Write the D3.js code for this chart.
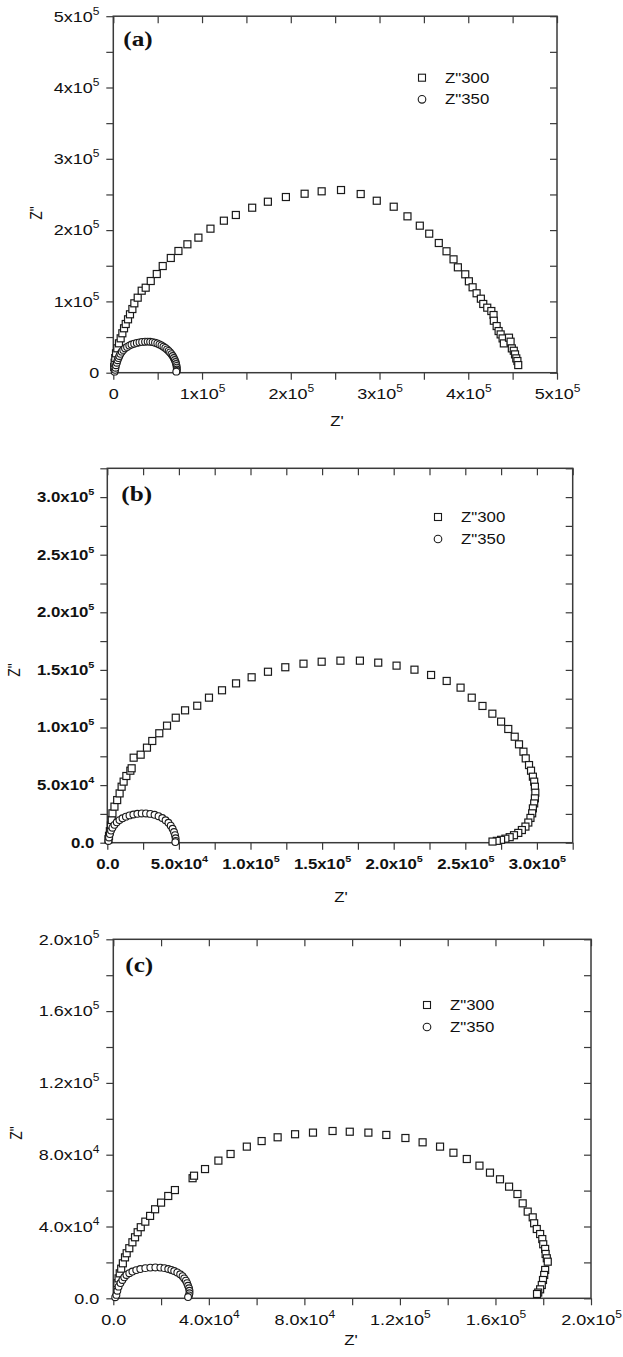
<!DOCTYPE html>
<html><head><meta charset="utf-8">
<script src="https://cdn.jsdelivr.net/npm/d3@7"></script>
<style>body{margin:0;background:#fff}svg{display:block}</style>
</head><body>
<script>
// ---------- DATA ----------
const seriesNames = ["Z\"300", "Z\"350"];
const panelLetters = ["(a)", "(b)", "(c)"];

// Panel (a)
const aTicks = [0,50000,100000,150000,200000,250000,300000,350000,400000,450000,500000];
const aMajor = [0,100000,200000,300000,400000,500000];
const aLabels = ["0","1x10^5","2x10^5","3x10^5","4x10^5","5x10^5"];
const aZ300 = [[1000,8000],[1500,14000],[2200,20500],[3050,27200],[4500,34200],[6400,41200],[8300,48200],[10200,55300],[12100,62300],[14000,68300],[16600,74900],[18800,81900],[21500,89300],[23700,97300],[27500,105200],[32000,115000],[36500,119200],[42200,128600],[49000,138400],[55700,149600],[64800,160900],[73400,170700],[83500,180100],[95900,189400],[109500,202000],[124600,213200],[138100,221200],[156500,231400],[174200,239800],[194500,246400],[215600,251000],[234800,254400],[256600,256200],[278800,250600],[296900,241200],[316000,232800],[331500,219300],[345400,206200],[356000,195000],[366800,181900],[375500,170300],[383400,159000],[388300,147800],[396600,138000],[400700,128200],[404900,119800],[409400,111400],[414200,103800],[416900,96400],[421400,91200],[426000,86500],[428500,80900],[428800,72900],[432000,65400],[434200,58400],[436500,53700],[438700,48100],[440100,41100],[445900,49100],[447700,43500],[449100,34100],[451300,30800],[452700,25700],[454100,20100],[455400,16400],[456300,10700]];
const aZ350 = [[1500,1500],[2000,4000],[2500,7000],[3000,10500],[4000,14000],[4800,17500],[5800,20500],[6800,23500],[8000,26500],[9500,29500],[11200,32000],[13200,34200],[15500,36200],[18000,38000],[20500,39500],[23500,40700],[26500,41800],[29500,42600],[32500,43200],[35800,43500],[38700,43600],[41500,43400],[44300,42900],[47000,42100],[49600,41000],[52000,39700],[54300,38200],[56500,36500],[58600,34700],[60600,32700],[62400,30600],[64000,28500],[65600,26000],[67000,23400],[68200,20600],[69300,17800],[70200,15000],[70800,12200],[71300,9500],[71500,7000],[71600,4500],[71500,2500],[71000,1500]];

// Panel (b)
const bTicks = [0,25000,50000,75000,100000,125000,150000,175000,200000,225000,250000,275000,300000,325000];
const bMajor = [0,50000,100000,150000,200000,250000,300000];
const bLabels = ["0.0","5.0x10^4","1.0x10^5","1.5x10^5","2.0x10^5","2.5x10^5","3.0x10^5"];
const bZ300 = [[800,3000],[1200,6000],[1800,10000],[2500,15000],[3100,19700],[3600,25500],[5000,31300],[6900,37000],[8600,42800],[10000,48600],[11400,53000],[13300,57900],[16100,62500],[17000,64600],[18400,73800],[23300,76400],[27700,82500],[31400,88300],[36300,95000],[41700,101600],[47800,108500],[54300,114900],[62800,118900],[71000,125900],[80100,132300],[89900,138300],[100800,143600],[112200,148400],[124300,152300],[137000,155400],[149700,157100],[162800,158000],[176400,158000],[189200,156300],[202000,153700],[214500,150200],[226100,145600],[237000,140400],[246700,134600],[254500,125900],[262000,118700],[268900,112000],[275000,105100],[280000,98700],[284500,92000],[287500,85400],[290600,79000],[292200,73200],[294500,67400],[295900,62500],[297200,57300],[298100,53000],[298600,48600],[298900,43400],[298600,38500],[298100,34100],[297200,29800],[296700,25500],[295500,21500],[294000,17500],[292000,14000],[289500,11000],[287000,8500],[284000,6500],[281000,4800],[278000,3500],[275000,2500],[272000,1600],[269000,1000]];
const bZ350 = [[800,1500],[1200,4500],[1800,7500],[2600,10500],[3600,13000],[5000,15500],[6600,17700],[8500,19600],[10600,21200],[13000,22600],[15500,23700],[18200,24500],[21000,25100],[24000,25400],[27000,25400],[30000,25000],[33000,24200],[35800,23000],[38400,21400],[40700,19500],[42700,17300],[44300,14800],[45600,12100],[46600,9300],[47300,6500],[47700,3800],[47800,1500],[47500,500]];

// Panel (c)
const cTicks = [0,20000,40000,60000,80000,100000,120000,140000,160000,180000,200000];
const cMajor = [0,40000,80000,120000,160000,200000];
const cLabels = ["0.0","4.0x10^4","8.0x10^4","1.2x10^5","1.6x10^5","2.0x10^5"];
const cZ300 = [[1700,8400],[2200,11100],[2700,13900],[3300,16500],[4000,19500],[4900,22800],[5600,25100],[6700,27900],[8000,31200],[9100,34000],[10200,36800],[11500,39600],[13400,42700],[15400,45900],[17500,49600],[20000,53300],[23000,57000],[25800,60300],[33200,66900],[33800,68300],[38400,72000],[44000,76700],[49100,80400],[55900,84500],[62100,87600],[68800,89700],[76100,91400],[83600,92300],[91800,93200],[99000,92800],[106800,92300],[114300,91000],[122300,89300],[129500,86900],[136800,84500],[142400,81100],[148000,77600],[153300,73900],[157700,70000],[161900,66300],[165700,62200],[169200,58100],[171400,52900],[173500,48300],[175600,45100],[176200,41800],[177300,38600],[178700,35800],[179600,33000],[180000,30100],[180800,27500],[181000,24700],[181500,22300],[181900,20400],[180800,15800],[180400,13000],[179900,10200],[179400,7400],[178700,5000],[177900,3200],[177400,2400]];
const cZ350 = [[800,600],[1300,1900],[1700,4200],[2200,6500],[3000,8500],[3800,10200],[4600,11700],[5500,13000],[6700,14000],[8000,14900],[9600,15700],[11300,16300],[13400,16800],[15500,17100],[17600,17200],[19700,17100],[21400,16800],[23000,16300],[24300,15800],[25500,15200],[26800,14400],[28000,13400],[29000,12300],[29700,11100],[30400,9800],[30900,8400],[31300,7000],[31700,5600],[31900,4200],[31900,2800],[31700,1600],[31300,700]];

// ---------- DRAW ----------
const svg = d3.select("body").append("svg").attr("width",623).attr("height",1357);
const SANS = "'Liberation Sans', Arial, sans-serif";
const SERIF = "'Liberation Serif', 'Times New Roman', serif";
const AX = "#3a3a3a";
const SX = 1.2; // horizontal stretch of the original typesetting

function fillLabel(sel, str, supSize) {
  const parts = str.split("^");
  sel.text(parts[0]);
  if (parts[1]) sel.append("tspan").attr("dy", -7).attr("font-size", supSize).text(parts[1]);
}
function stretchedText(g, x, y, txt) {
  return g.append("text").attr("transform", `translate(${x},${y}) scale(${SX},1)`).text(txt);
}

function panel(p) {
  const g = svg.append("g");
  const x = d3.scaleLinear().domain([p.ticks[0], p.ticks[p.ticks.length-1]]).range([p.L, p.R]);
  const y = d3.scaleLinear().domain([p.ticks[0], p.ticks[p.ticks.length-1]]).range([p.B, p.T]);
  const fmt = d => { const i = p.major.indexOf(d); return i >= 0 ? p.labels[i] : ""; };

  const style = s => {
    s.select(".domain").remove();
    s.selectAll(".tick line").attr("stroke", AX).attr("stroke-width", 1.2);
    s.selectAll("text").attr("fill", "#111").attr("font-family", SANS)
      .attr("font-size", p.fs).attr("font-weight", p.bold ? "bold" : "normal");
  };

  const gx = g.append("g").attr("transform", `translate(0,${p.B})`)
    .call(d3.axisBottom(x).tickValues(p.ticks).tickSize(7).tickSizeOuter(0).tickPadding(p.xpad).tickFormat(fmt));
  style(gx);
  gx.selectAll(".tick text").attr("transform", `scale(${SX},1)`)
    .each(function(d){ fillLabel(d3.select(this), fmt(d), p.sup); });

  const gy = g.append("g").attr("transform", `translate(${p.L},0)`)
    .call(d3.axisLeft(y).tickValues(p.ticks).tickSize(7).tickSizeOuter(0).tickFormat(fmt));
  style(gy);
  gy.selectAll(".tick text").attr("x", -(7 + p.ypad) / SX).attr("transform", `scale(${SX},1)`)
    .each(function(d){ fillLabel(d3.select(this), fmt(d), p.sup); });

  const gr = g.append("g").attr("transform", `translate(${p.R},0)`)
    .call(d3.axisLeft(y).tickValues(p.ticks).tickSize(7).tickSizeOuter(0).tickFormat(""));
  style(gr);
  const gt = g.append("g").attr("transform", `translate(0,${p.T})`)
    .call(d3.axisBottom(x).tickValues(p.ticks).tickSize(7).tickSizeOuter(0).tickFormat(""));
  style(gt);

  g.append("rect").attr("x", p.L).attr("y", p.T).attr("width", p.R-p.L).attr("height", p.B-p.T)
    .attr("fill", "none").attr("stroke", AX).attr("stroke-width", 1.5);

  // data
  const sq = 7;
  g.append("g").selectAll("rect").data(p.s300).join("rect")
    .attr("x", d => x(d[0]) - sq/2).attr("y", d => y(d[1]) - sq/2)
    .attr("width", sq).attr("height", sq)
    .attr("fill", "#fff").attr("stroke", "#1a1a1a").attr("stroke-width", 1.2);
  g.append("g").selectAll("circle").data(p.s350).join("circle")
    .attr("cx", d => x(d[0])).attr("cy", d => y(d[1])).attr("r", 3.4)
    .attr("fill", "#fff").attr("stroke", "#1a1a1a").attr("stroke-width", 1.1);

  // legend
  g.append("rect").attr("x", p.lx - 3.5).attr("y", p.ly - 3.5).attr("width", 7).attr("height", 7)
    .attr("fill", "#fff").attr("stroke", "#1a1a1a").attr("stroke-width", 1.1);
  g.append("circle").attr("cx", p.lx).attr("cy", p.ly + p.lgap).attr("r", 3.8)
    .attr("fill", "#fff").attr("stroke", "#1a1a1a").attr("stroke-width", 1.1);
  [0,1].forEach(i => stretchedText(g, p.lx + 23, p.ly + i*p.lgap + 5, seriesNames[i])
    .attr("font-family", SANS).attr("font-size", 14).attr("fill", "#111"));

  // panel letter
  stretchedText(g, p.L + p.ltx, p.T + p.lty, p.letter).attr("font-family", SERIF)
    .attr("font-weight", "bold").attr("font-size", 21).attr("fill", "#111");

  // axis titles
  stretchedText(g, p.xtx, p.xty, "Z'").attr("text-anchor", "middle")
    .attr("font-family", SANS).attr("font-size", 14).attr("fill", "#111");
  g.append("text").attr("transform", `translate(${p.ytx},${p.yty}) scale(${SX},1) rotate(-90)`).attr("text-anchor", "middle")
    .attr("font-family", SANS).attr("font-size", 14).attr("fill", "#111").text("Z\"");
}

panel({L:113.3, R:557, T:16.2, B:372.7, ticks:aTicks, major:aMajor, labels:aLabels, s300:aZ300, s350:aZ350,
  fs:15, sup:10, bold:false, xpad:9, ypad:7, lx:422, ly:77.7, lgap:21.6, letter:panelLetters[0], ltx:10, lty:30,
  xtx:337, xty:426, ytx:42, yty:213});
panel({L:107.3, R:572.7, T:468.3, B:842.7, ticks:bTicks, major:bMajor, labels:bLabels, s300:bZ300, s350:bZ350,
  fs:14, sup:9, bold:true, xpad:9, ypad:6, lx:438, ly:517, lgap:22, letter:panelLetters[1], ltx:14, lty:32.5,
  xtx:341, xty:902, ytx:20, yty:670});
panel({L:113.3, R:591, T:939.3, B:1298.3, ticks:cTicks, major:cMajor, labels:cLabels, s300:cZ300, s350:cZ350,
  fs:15, sup:10, bold:false, xpad:9, ypad:7, lx:427, ly:1005, lgap:22, letter:panelLetters[2], ltx:12, lty:33,
  xtx:351, xty:1345, ytx:22, yty:1133});
</script>
</body></html>
